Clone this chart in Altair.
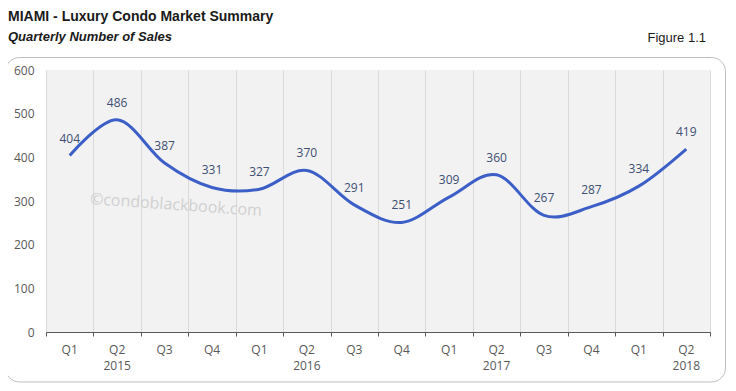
import altair as alt
import pandas as pd

quarters = ["Q1", "Q2", "Q3", "Q4", "Q1", "Q2", "Q3", "Q4", "Q1", "Q2", "Q3", "Q4", "Q1", "Q2"]
years = ["", "2015", "", "", "", "2016", "", "", "", "2017", "", "", "", "2018"]
sales = [404, 486, 387, 331, 327, 370, 291, 251, 309, 360, 267, 287, 334, 419]
y_ticks = [0, 100, 200, 300, 400, 500, 600]

W, H = 664, 262

df = pd.DataFrame({
    "pos": [i + 0.5 for i in range(len(sales))],
    "quarter": quarters,
    "year": years,
    "sales": sales,
})

xscale = alt.Scale(domain=[0, len(sales)], nice=False, zero=False)
yscale = alt.Scale(domain=[0, 600], nice=False)

base = alt.Chart(df)

line = base.mark_line(
    interpolate="cardinal", tension=0, color="#3c5fc7", strokeWidth=3
).encode(
    x=alt.X("pos:Q", scale=xscale, title=None,
            axis=alt.Axis(values=list(range(len(sales) + 1)), grid=True, gridColor="#d9d9d9",
                          labels=False, ticks=True, tickSize=4, tickColor="#595959",
                          domain=True, domainColor="#595959", domainWidth=1)),
    y=alt.Y("sales:Q", scale=yscale, title=None,
            axis=alt.Axis(values=y_ticks, grid=False, domain=False, ticks=False,
                          labelPadding=12, labelFont="Open Sans", labelFontSize=12,
                          labelColor="#595959")),
)

labels = base.mark_text(
    dy=-17, font="Open Sans", fontSize=12, color="#3d4f72"
).encode(
    x=alt.X("pos:Q", scale=xscale),
    y=alt.Y("sales:Q", scale=yscale),
    text="sales:Q",
)

qlabels = base.mark_text(
    font="Open Sans", fontSize=12, color="#595959", baseline="middle"
).encode(
    x=alt.X("pos:Q", scale=xscale),
    y=alt.value(H + 18),
    text="quarter:N",
)

ylabels = base.mark_text(
    font="Open Sans", fontSize=12, color="#595959", baseline="middle"
).encode(
    x=alt.X("pos:Q", scale=xscale),
    y=alt.value(H + 34),
    text="year:N",
)

one = alt.Data(values=[{"a": 1}])

frame = alt.Chart(one).mark_rect(
    cornerRadius=14, fillOpacity=0, stroke="#bfbfbf", strokeWidth=1
).encode(
    x=alt.value(-40.5), x2=alt.value(679.5), y=alt.value(-12.5), y2=alt.value(312)
)

watermark = alt.Chart(one).mark_text(
    text="©condoblackbook.com", font="Open Sans", fontSize=16, color="#d0d0d0",
    angle=4, align="center", baseline="middle"
).encode(x=alt.value(130), y=alt.value(135))

title = alt.Chart(one).mark_text(
    text="MIAMI - Luxury Condo Market Summary", font="Liberation Sans", fontSize=14,
    fontWeight="bold", color="#1a1a1a", align="left", baseline="alphabetic"
).encode(x=alt.value(-38), y=alt.value(-49))

subtitle = alt.Chart(one).mark_text(
    text="Quarterly Number of Sales", font="Liberation Sans", fontSize=13,
    fontWeight="bold", fontStyle="italic", color="#1a1a1a", align="left", baseline="alphabetic"
).encode(x=alt.value(-38), y=alt.value(-29))

figure = alt.Chart(one).mark_text(
    text="Figure 1.1", font="Liberation Sans", fontSize=13, color="#1a1a1a",
    align="right", baseline="alphabetic"
).encode(x=alt.value(660), y=alt.value(-28))

chart = alt.layer(
    line, watermark, labels, qlabels, ylabels, frame, title, subtitle, figure
).properties(
    width=W, height=H,
    autosize=alt.AutoSizeParams(type="none"),
    padding={"left": 38, "top": 62, "right": 18, "bottom": 51},
    background="white",
).configure_view(
    stroke=None, fill="#f2f2f2"
)

chart.save("out.html", embed_options={"renderer": "svg", "actions": False})
